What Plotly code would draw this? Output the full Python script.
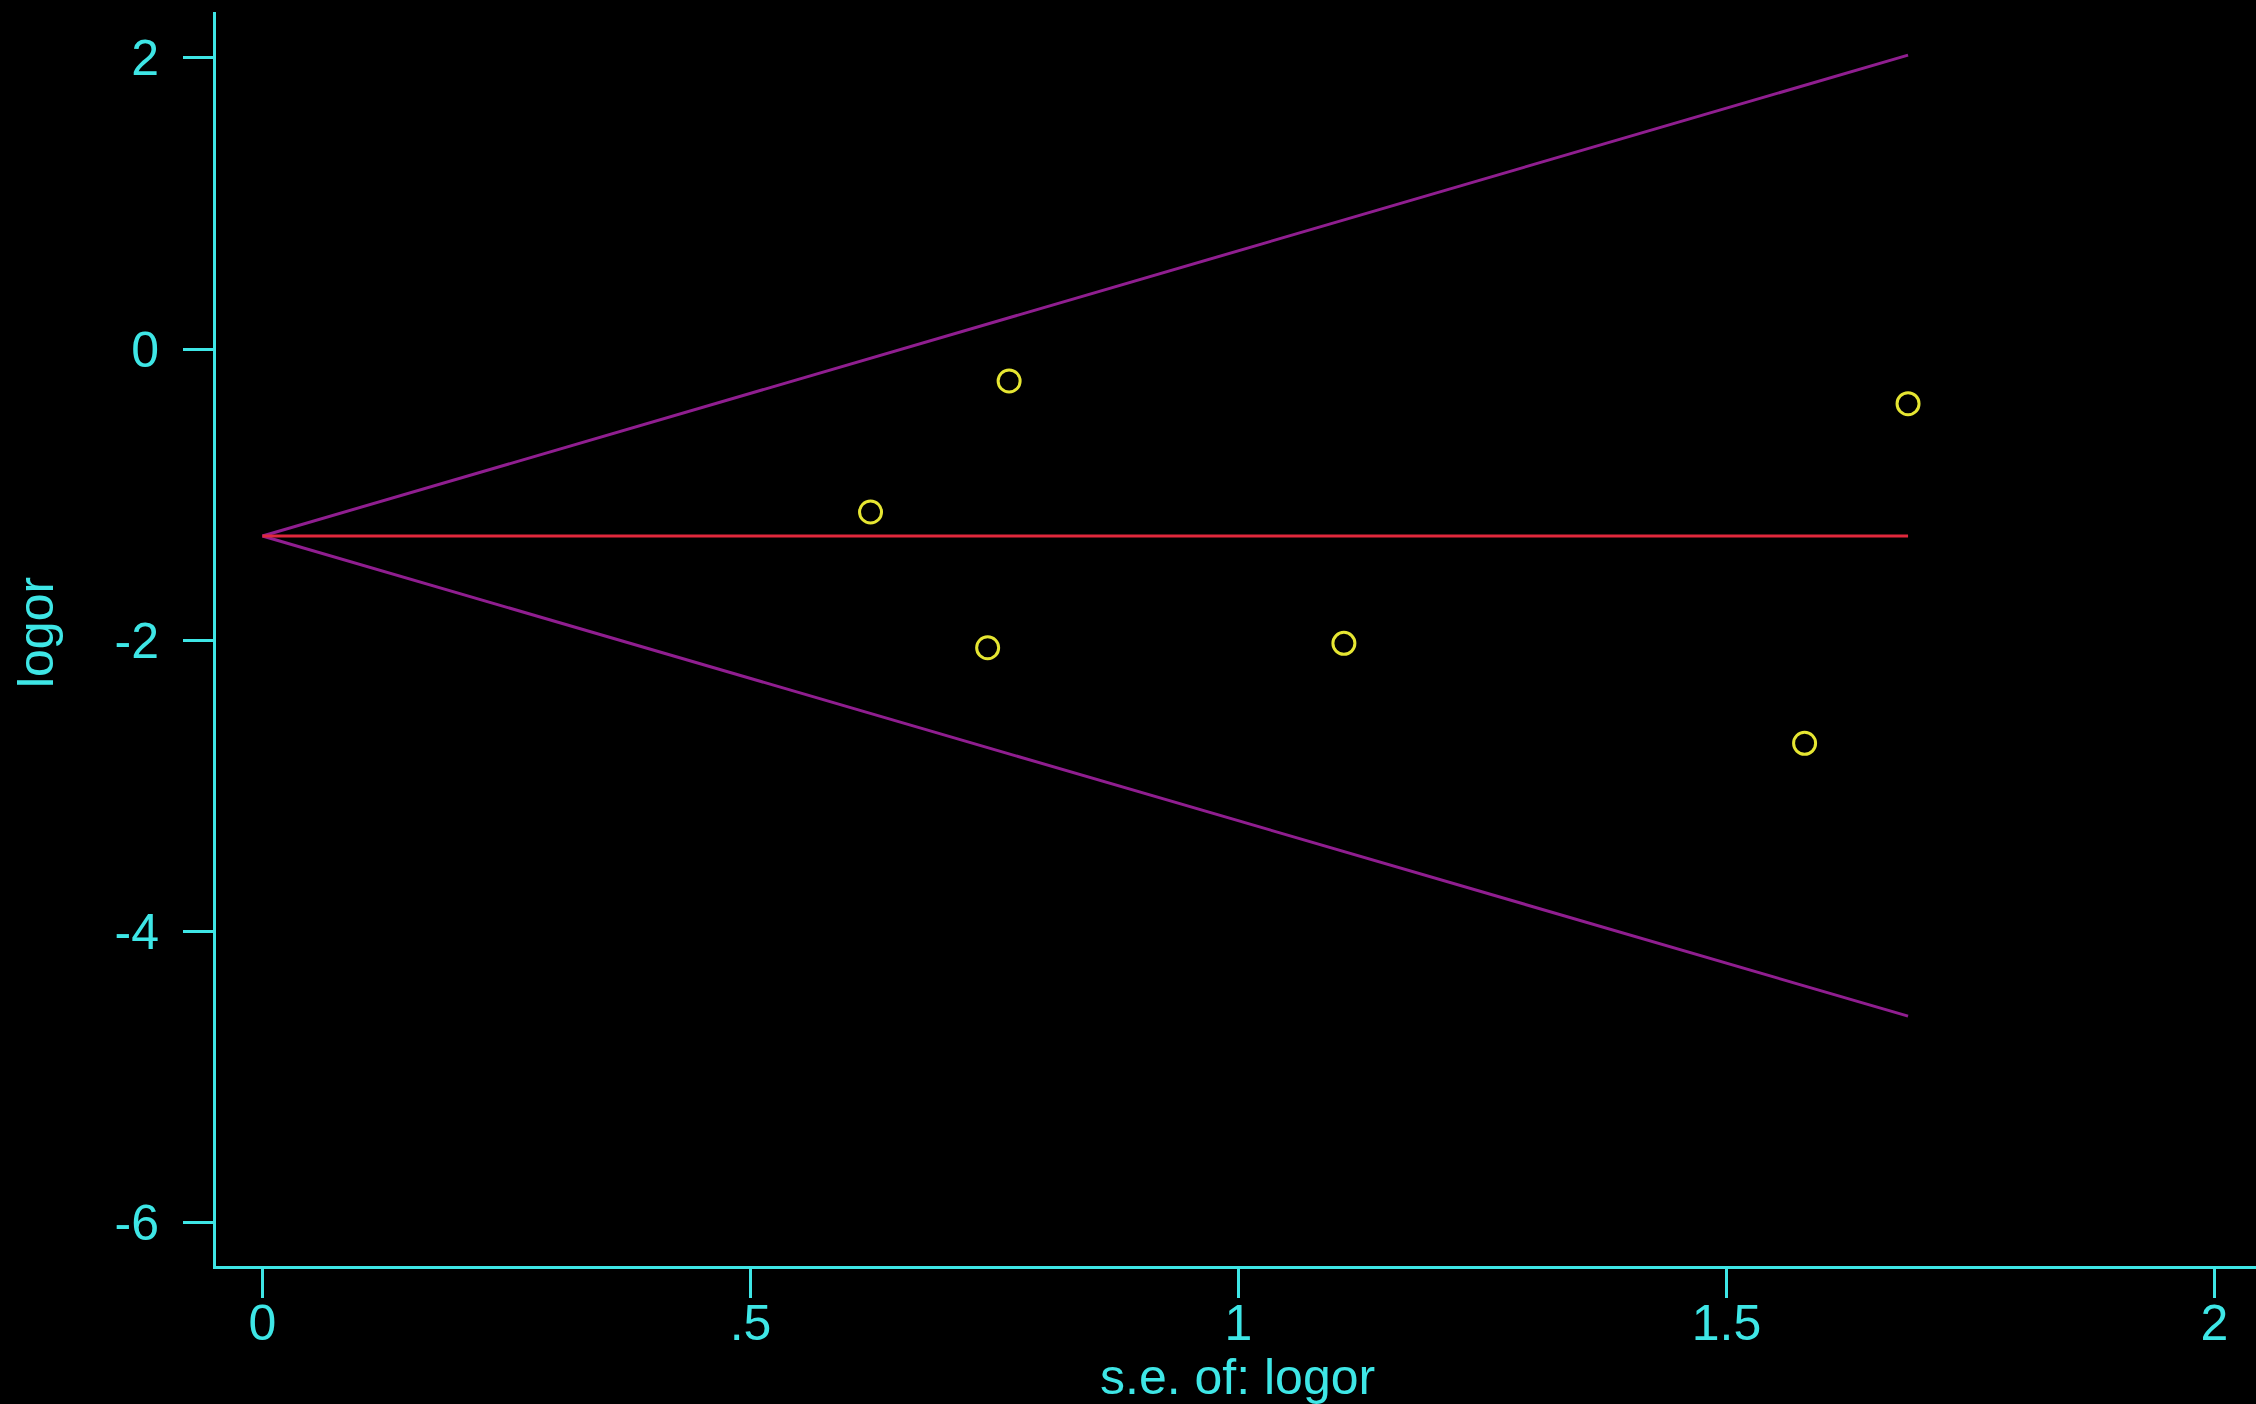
import plotly.graph_objects as go

# Study data (standard error vs log odds ratio)
se = [0.623, 0.765, 0.743, 1.108, 1.580, 1.686]
logor = [-1.120, -0.220, -2.053, -2.023, -2.710, -0.376]

# Pooled estimate line and pseudo 95% confidence limits
line_se = [0.0, 1.686]
pooled = [-1.285, -1.285]
upper = [-1.285, 2.020]
lower = [-1.285, -4.585]

x_ticks = [0, 0.5, 1, 1.5, 2]
x_ticktext = ["0", ".5", "1", "1.5", "2"]
y_ticks = [-6, -4, -2, 0, 2]
y_ticktext = ["-6", "-4", "-2", "0", "2"]

x_title = "s.e. of: logor"
y_title = "logor"

CYAN = "#3ee6e6"
PURPLE = "#901e90"
RED = "#e0283c"
YELLOW = "#e6e632"
FONT = "Liberation Sans, Arial, Helvetica, sans-serif"
FS = 50

fig = go.Figure()
fig.add_trace(go.Scatter(x=line_se, y=upper, mode="lines",
                         line=dict(color=PURPLE, width=3), showlegend=False))
fig.add_trace(go.Scatter(x=line_se, y=lower, mode="lines",
                         line=dict(color=PURPLE, width=3), showlegend=False))
fig.add_trace(go.Scatter(x=line_se, y=pooled, mode="lines",
                         line=dict(color=RED, width=3), showlegend=False))
fig.add_trace(go.Scatter(x=se, y=logor, mode="markers",
                         marker=dict(symbol="circle-open", size=22,
                                     color=YELLOW, line=dict(width=3, color=YELLOW)),
                         showlegend=False))

fig.update_layout(
    width=2256, height=1404,
    paper_bgcolor="black", plot_bgcolor="black",
    margin=dict(l=216, r=0, t=12, b=138),
    font=dict(family=FONT, size=FS, color=CYAN),
    xaxis=dict(range=[-0.0476, 2.0425], tickvals=x_ticks, ticktext=x_ticktext,
               showgrid=False, zeroline=False, showline=True, linecolor=CYAN,
               linewidth=3, ticks="outside", ticklen=29, tickwidth=3, tickcolor=CYAN,
               tickfont=dict(size=FS, color=CYAN, family=FONT),
               ticklabelstandoff=-18),
    yaxis=dict(range=[-6.302, 2.316], tickvals=y_ticks, ticktext=y_ticktext,
               showgrid=False, zeroline=False, showline=True, linecolor=CYAN,
               linewidth=3, ticks="outside", ticklen=30, tickwidth=3, tickcolor=CYAN,
               tickfont=dict(size=FS, color=CYAN, family=FONT),
               ticklabelstandoff=14),
    annotations=[
        dict(text=x_title, xref="paper", yref="paper", x=0.5005, y=-0.0885,
             xanchor="center", yanchor="middle", showarrow=False,
             font=dict(size=FS, color=CYAN, family=FONT)),
        dict(text=y_title, xref="paper", yref="paper", x=-0.0882, y=0.5048,
             xanchor="center", yanchor="middle", showarrow=False, textangle=-90,
             font=dict(size=FS, color=CYAN, family=FONT)),
    ],
)

fig.write_html("out.html", config={"displayModeBar": False},
               post_script="document.body.style.margin='0';document.body.style.background='black';")
